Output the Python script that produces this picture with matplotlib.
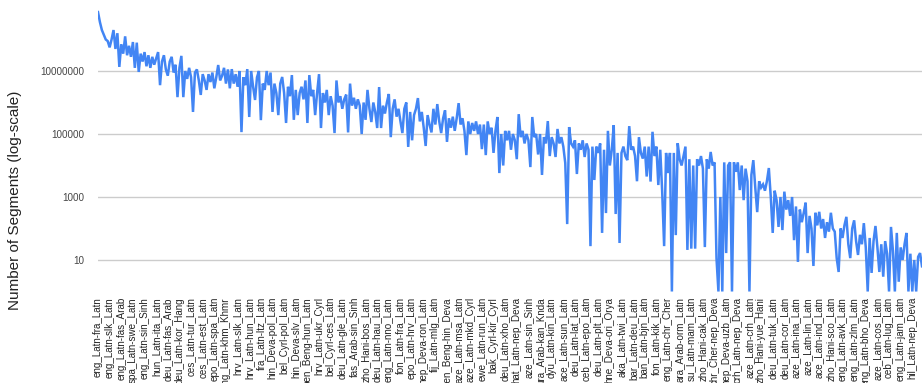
import numpy as np
import matplotlib
matplotlib.use("Agg")
import matplotlib.pyplot as plt

plt.rcParams['font.family'] = ['Liberation Sans', 'DejaVu Sans']

# language pairs shown on the x axis (every 6th point has a label)
pair_labels = [
    "eng_Latn-fra_Latn", "eng_Latn-slk_Latn", "eng_Latn-fas_Arab", "spa_Latn-swe_Latn",
    "eng_Latn-sin_Sinh", "hun_Latn-ita_Latn", "deu_Latn-fas_Arab", "deu_Latn-kor_Hang",
    "ces_Latn-tur_Latn", "ces_Latn-est_Latn", "epo_Latn-spa_Latn", "eng_Latn-khm_Khmr",
    "hrv_Latn-slk_Latn", "hrv_Latn-hun_Latn", "fra_Latn-ltz_Latn", "hin_Deva-pol_Latn",
    "bel_Cyrl-pol_Latn", "hin_Deva-slv_Latn", "ben_Beng-hun_Latn", "hrv_Latn-ukr_Cyrl",
    "bel_Cyrl-ces_Latn", "deu_Latn-gle_Latn", "fas_Arab-sin_Sinh", "zho_Hani-bos_Latn",
    "deu_Latn-hau_Latn", "eng_Latn-nno_Latn", "fon_Latn-fra_Latn", "epo_Latn-hrv_Latn",
    "nep_Deva-ron_Latn", "fij_Latn-mlg_Latn", "ben_Beng-hin_Deva", "aze_Latn-msa_Latn",
    "aze_Latn-mkd_Cyrl", "ewe_Latn-run_Latn", "bak_Cyrl-kir_Cyrl", "deu_Latn-xho_Latn",
    "hat_Latn-nep_Deva", "aze_Latn-sin_Sinh", "ura_Arab-kan_Knda", "dyu_Latn-kin_Latn",
    "ace_Latn-sun_Latn", "deu_Latn-lat_Latn", "ceb_Latn-epo_Latn", "deu_Latn-plt_Latn",
    "hne_Deva-ori_Orya", "aka_Latn-twi_Latn", "bar_Latn-deu_Latn", "ban_Latn-bjn_Latn",
    "fon_Latn-kik_Latn", "eng_Latn-chr_Cher", "ara_Arab-orm_Latn", "su_Latn-mam_Latn",
    "zho_Hani-cak_Latn", "chr_Cher-nep_Deva", "nep_Deva-uzb_Latn", "crh_Latn-nep_Deva",
    "aze_Latn-crh_Latn", "zho_Hani-yue_Hani", "deu_Latn-tuk_Latn", "deu_Latn-cor_Latn",
    "aze_Latn-ina_Latn", "aze_Latn-lin_Latn", "ace_Latn-ind_Latn", "zho_Hani-sco_Latn",
    "eng_Latn-avk_Latn", "eng_Latn-zlm_Latn", "eng_Latn-bho_Deva", "aze_Latn-cos_Latn",
    "ceb_Latn-lug_Latn", "eng_Latn-jam_Latn", "hil_Latn-nep_Deva",
]
label_step = 6

# log10 of the number of segments
log_segments = [
    8.87, 8.55, 8.3, 8.15, 8.0, 7.95, 7.75, 8.0, 8.3, 7.7,
    8.2, 7.13, 7.85, 7.55, 8.1, 7.5, 7.8, 7.45, 7.92, 7.1,
    7.9, 6.97, 7.55, 7.3, 7.6, 7.15, 7.5, 7.1, 7.45, 7.2,
    7.4, 7.6, 6.55, 7.3, 7.5, 7.05, 6.85, 7.3, 7.45, 6.95,
    7.2, 6.17, 7.1, 7.48, 6.17, 7.0, 6.75, 7.1, 6.8, 5.7,
    6.95, 7.05, 6.7, 6.24, 6.9, 6.7, 6.4, 6.9, 6.65, 6.95,
    6.45, 6.8, 7.19, 6.7, 6.85, 7.1, 6.6, 7.05, 6.45, 7.06,
    6.6, 6.9, 6.5, 7.0, 5.06, 6.8, 6.55, 7.06, 5.54, 7.0,
    6.5, 6.08, 6.8, 7.0, 5.44, 6.6, 6.4, 7.0, 6.55, 6.95,
    5.7, 6.6, 6.3, 5.6, 6.6, 6.81, 6.3, 5.35, 6.5, 6.2,
    6.87, 5.45, 6.4, 5.6, 6.3, 6.5, 6.1, 6.7, 5.35, 6.87,
    6.2, 6.4, 5.6, 6.3, 6.9, 5.19, 6.3, 6.0, 6.4, 5.6,
    6.2, 5.9, 5.03, 6.7, 6.0, 6.2, 5.8, 6.1, 6.25, 5.05,
    6.6, 5.9, 6.15, 5.8, 6.1, 5.9, 5.0, 6.0, 5.45, 6.4,
    5.8, 5.38, 6.0, 5.7, 5.19, 6.49, 5.19, 5.9, 5.65, 6.0,
    6.27, 4.9, 5.8, 6.1, 5.55, 5.8, 5.4, 5.03, 5.8, 6.0,
    4.59, 5.7, 4.8, 5.6, 5.8, 6.14, 5.4, 5.7, 5.2, 4.62,
    5.6, 5.3, 5.05, 5.8, 5.3, 5.95, 5.4, 5.03, 5.5, 5.75,
    4.75, 5.5, 5.2, 5.55, 5.1, 5.5, 5.98, 5.3, 5.5, 5.1,
    4.33, 5.4, 5.0, 5.35, 5.1, 5.4, 5.0, 5.3, 4.52, 5.3,
    4.33, 5.4, 5.0, 5.2, 4.4, 5.1, 5.54, 3.76, 5.0, 4.0,
    5.1, 4.8, 5.1, 4.5, 5.0, 4.8, 4.2, 5.63, 4.9, 5.1,
    4.7, 5.0, 4.8, 3.95, 5.54, 4.9, 5.0, 4.35, 5.0, 3.7,
    4.9, 4.7, 5.41, 4.3, 4.9, 4.7, 4.27, 5.16, 4.7, 4.9,
    4.6, 4.08, 2.14, 5.22, 4.7, 4.6, 4.8, 3.73, 4.7, 4.5,
    4.8, 4.27, 4.7, 4.5, 1.44, 4.6, 3.54, 4.6, 4.4, 4.7,
    1.86, 4.5, 2.49, 5.1, 4.0, 4.5, 5.28, 2.46, 4.4, 1.54,
    4.4, 4.6, 4.3, 4.17, 5.25, 4.5, 4.6, 4.3, 3.5, 4.9,
    4.4, 4.22, 4.6, 3.65, 4.6, 3.49, 5.07, 4.3, 4.6, 3.38,
    4.5, 3.16, 1.44, 4.4, 3.76, 4.4, 0.0, 4.4, 1.79, 4.71,
    4.2, 4.0, 4.3, 4.6, 1.32, 4.2, 1.36, 4.0, 1.36, 4.2,
    4.0, 4.3, 3.9, 1.41, 4.2, 3.9, 4.43, 4.0, 4.1, 1.06,
    0.0, 3.0, 0.0, 4.1, 1.22, 4.0, 4.1, 0.0, 4.1, 3.8,
    4.1, 3.22, 4.0, 2.9, 3.9, 3.5, 0.0, 3.7, 4.17, 3.3,
    2.52, 3.5, 3.3, 3.4, 3.2, 3.5, 3.92, 3.0, 1.86, 3.2,
    2.9, 2.05, 3.0, 1.95, 3.17, 2.6, 2.9, 2.4, 3.0, 1.63,
    2.7, 0.94, 2.6, 2.2, 2.5, 2.82, 1.22, 2.4, 2.0, 0.81,
    2.5, 2.1, 2.53, 2.0, 2.3, 1.7, 2.2, 1.9, 2.5, 2.0,
    1.9, 1.06, 0.62, 2.0, 1.7, 2.1, 2.37, 1.5, 1.06, 2.0,
    2.26, 1.6, 1.16, 1.8, 1.5, 2.17, 1.4, 0.0, 1.7, 0.59,
    1.6, 2.08, 1.4, 0.62, 1.5, 0.47, 1.6, 1.2, 0.0, 2.05,
    1.3, 0.0, 1.86, 0.31, 1.4, 1.0, 1.5, 1.86, 0.0, 1.2,
    0.0, 1.0, 0.0, 1.1, 1.22, 0.8,
]

y_ticks = [10, 1000, 100000, 10000000]

segments = 10 ** np.array(log_segments)
x = np.arange(len(segments))

fig = plt.figure(figsize=(9.23, 3.83), dpi=100)
ax = fig.add_axes([98 / 923, 1 - 291.5 / 383, 824 / 923, 283.5 / 383])

ax.plot(x, segments, color='#4285f4', linewidth=1.8, solid_joinstyle='miter')

ax.set_yscale('log')
ax.set_ylim(1, 1e9)
ax.set_yticks(y_ticks)
ax.set_yticklabels([str(v) for v in y_ticks])
ax.minorticks_off()
ax.grid(axis='y', color='#cccccc', linewidth=1)
ax.set_axisbelow(True)

ax.set_xlim(0, len(segments) - 1)
ax.set_xticks(x[::label_step][:len(pair_labels)])
ax.set_xticklabels(pair_labels, rotation=90, ha='center', va='top')

for s in ax.spines.values():
    s.set_visible(False)
ax.tick_params(axis='both', length=0, labelsize=7.1, labelcolor='#444444')
ax.tick_params(axis='x', pad=4, labelcolor='#222222')
ax.tick_params(axis='y', pad=10)

fig.text(15 / 923, 1 - 200 / 383, 'Number of Segments (log-scale)', rotation=90,
         ha='center', va='center', fontsize=11, color='#222222')

fig.savefig('out.png', dpi=100)
